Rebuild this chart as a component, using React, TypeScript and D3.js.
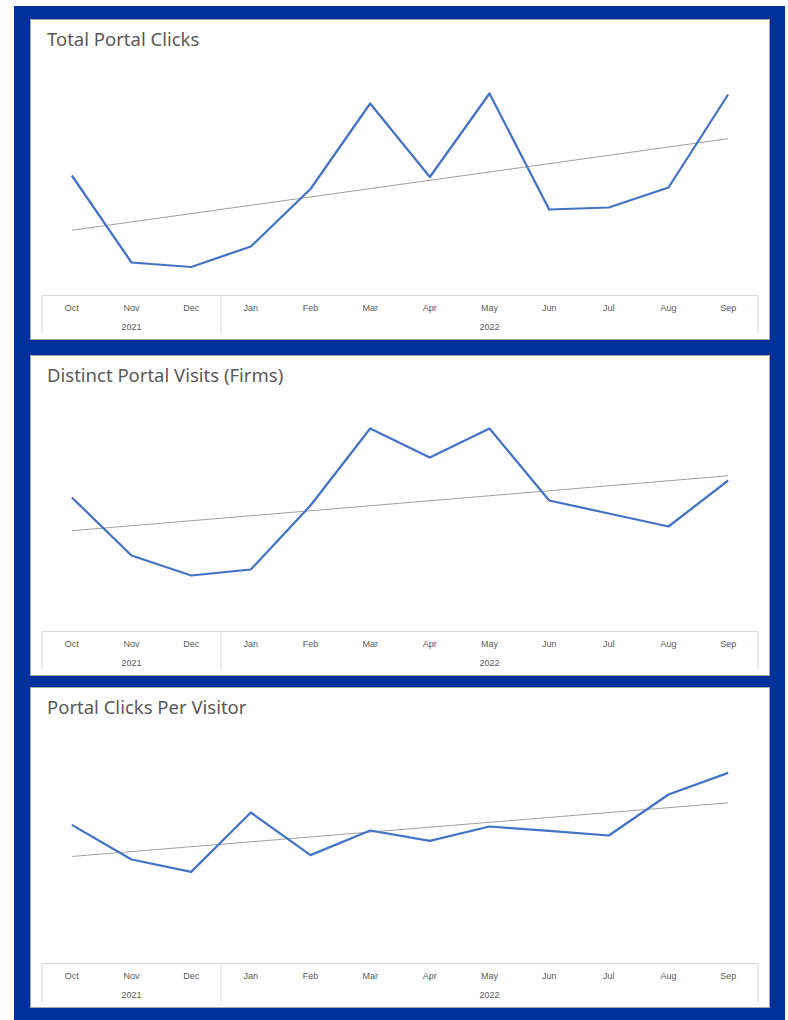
import React from "react";
import * as d3 from "d3";

const months = ["Oct", "Nov", "Dec", "Jan", "Feb", "Mar", "Apr", "May", "Jun", "Jul", "Aug", "Sep"];
const monthYears = ["2021", "2021", "2021", "2022", "2022", "2022", "2022", "2022", "2022", "2022", "2022", "2022"];
const totalClicks = [1200, 330, 285, 490, 1065, 1920, 1185, 2020, 860, 880, 1080, 2010];
const distinctVisits = [134, 76, 56, 62, 126, 203, 174, 203, 131, 118, 105, 151];
const clicksPerVisitor = [6.93, 5.2, 4.58, 7.55, 5.42, 6.65, 6.13, 6.85, 6.63, 6.4, 8.45, 9.53];
const titles = ["Total Portal Clicks", "Distinct Portal Visits (Firms)", "Portal Clicks Per Visitor"];
const yMax = [2400, 240, 12];
const seriesList = [totalClicks, distinctVisits, clicksPerVisitor];

const W = 788;
const H = 1020;
const BLUE = "#00309A";
const TEXT = "#595959";
const GRID = "#d9d9d9";

const panelTops = [19, 355, 687];
const PANEL_X0 = 30;
const PANEL_X1 = 770;
const PANEL_H = 321;
const AXIS_OFF = 276.5;

function regression(vals: number[]) {
  const n = vals.length;
  const xs = vals.map((_, i) => i);
  const mx = d3.mean(xs) as number;
  const my = d3.mean(vals) as number;
  let sxy = 0;
  let sxx = 0;
  for (let i = 0; i < n; i++) {
    sxy += (xs[i] - mx) * (vals[i] - my);
    sxx += (xs[i] - mx) * (xs[i] - mx);
  }
  const b = sxy / sxx;
  const a = my - b * mx;
  return (i: number) => a + b * i;
}

function Panel({ idx }: { idx: number }) {
  const top = panelTops[idx];
  const axisTop = top + AXIS_OFF;
  const values = seriesList[idx];
  const x = d3.scaleBand<string>().domain(months).range([42, 758]).padding(0);
  const y = d3.scaleLinear().domain([0, yMax[idx]]).range([axisTop, axisTop - 240]);
  const cx = (m: string) => (x(m) as number) + x.bandwidth() / 2;
  const line = d3
    .line<number>()
    .x((_, i) => cx(months[i]))
    .y((d) => y(d));
  const fit = regression(values);
  const n = values.length;
  const trend = [0, n - 1].map((i) => [cx(months[i]), y(fit(i))] as [number, number]);

  const groups: { year: string; start: number; end: number }[] = [];
  monthYears.forEach((yr, i) => {
    const last = groups[groups.length - 1];
    if (last && last.year === yr) last.end = i;
    else groups.push({ year: yr, start: i, end: i });
  });
  const axisBottom = top + PANEL_H - 6;
  const xl = x.range()[0];
  const xr = x.range()[1];
  const bounds = [xl, ...groups.slice(1).map((g) => x(months[g.start]) as number), xr];

  return (
    <g>
      <rect
        x={PANEL_X0 + 0.5}
        y={top + 0.5}
        width={PANEL_X1 - PANEL_X0 - 1}
        height={PANEL_H - 1}
        fill="#fff"
        stroke="#a6a6a6"
        strokeWidth={1}
      />
      <text x={47} y={top + 27} fontFamily="'Noto Sans', 'Open Sans', sans-serif" fontSize={18.5} fill={TEXT}>
        {titles[idx]}
      </text>
      <line x1={xl} x2={xr} y1={axisTop} y2={axisTop} stroke={GRID} strokeWidth={1} />
      {bounds.map((bx, i) => (
        <line key={i} x1={bx} x2={bx} y1={axisTop} y2={axisBottom} stroke={GRID} strokeWidth={1} />
      ))}
      {months.map((m) => (
        <text
          key={m}
          x={cx(m)}
          y={axisTop + 15}
          textAnchor="middle"
          fontFamily="'Liberation Sans', Arial, sans-serif"
          fontSize={9}
          fill={TEXT}
        >
          {m}
        </text>
      ))}
      {groups.map((g) => {
        const gx0 = x(months[g.start]) as number;
        const gx1 = (x(months[g.end]) as number) + x.bandwidth();
        return (
          <text
            key={g.year}
            x={(gx0 + gx1) / 2}
            y={axisTop + 34}
            textAnchor="middle"
            fontFamily="'Liberation Sans', Arial, sans-serif"
            fontSize={9}
            fill={TEXT}
          >
            {g.year}
          </text>
        );
      })}
      <line
        x1={trend[0][0]}
        y1={trend[0][1]}
        x2={trend[1][0]}
        y2={trend[1][1]}
        stroke="#a0a0a0"
        strokeWidth={1}
      />
      <path d={line(values) as string} fill="none" stroke="#4472C4" strokeWidth={2.25} strokeLinejoin="round" />
    </g>
  );
}

export default function App() {
  return (
    <svg
      width={W}
      height={H}
      style={{ position: "absolute", left: 0, top: 0, display: "block" }}
    >
      <rect x={0} y={0} width={W} height={H} fill="#fff" />
      <rect x={14} y={6} width={771} height={H - 6} fill={BLUE} />
      {[0, 1, 2].map((i) => (
        <Panel key={i} idx={i} />
      ))}
    </svg>
  );
}
